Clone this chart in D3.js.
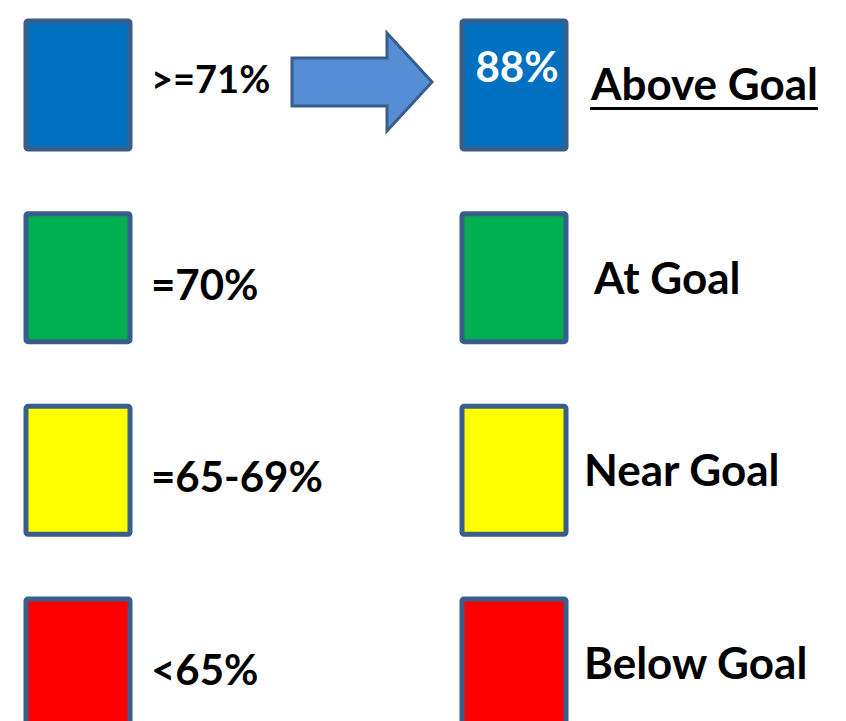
<!DOCTYPE html>
<html>
<head>
<meta charset="utf-8">
<script src="https://cdn.jsdelivr.net/npm/d3@7"></script>
<style>
  html, body { margin: 0; padding: 0; background: #fff; }
  svg { display: block; }
</style>
</head>
<body>
<div id="chart"></div>
<script>
/* Goal status legend */

const statuses = ['Above Goal', 'At Goal', 'Near Goal', 'Below Goal'];
const thresholds = ['>=71%', '=70%', '=65-69%', '<65%'];
const colors = ['#0070C0', '#00B050', '#FFFF00', '#FF0000'];
const sampleValue = '88%';

const W = 846, H = 721;
const boxW = 104, boxH = 128;
const outline = '#3A5E8C';
const font = "Lato, 'Noto Sans', sans-serif";

const svg = d3.select('#chart')
  .append('svg')
  .attr('width', W)
  .attr('height', H);

// rows
const y = d3.scalePoint()
  .domain(statuses)
  .range([85, 663]);

// columns: threshold swatch | status swatch
const x = d3.scalePoint()
  .domain(['threshold', 'status'])
  .range([78, 514]);

const rows = statuses.map((s, i) => ({
  status: s,
  threshold: thresholds[i],
  color: colors[i],
  i
}));

// ─── Swatches ───
['threshold', 'status'].forEach(col => {
  svg.append('g')
    .selectAll('rect')
    .data(rows)
    .join('rect')
    .attr('x', x(col) - boxW / 2)
    .attr('y', d => y(d.status) - boxH / 2)
    .attr('width', boxW)
    .attr('height', boxH)
    .attr('rx', 2)
    .attr('fill', d => d.color)
    .attr('stroke', outline)
    .attr('stroke-width', 5);
});

// ─── Threshold labels ───
svg.append('g')
  .selectAll('text')
  .data(rows)
  .join('text')
  .attr('x', x('threshold') + 73)
  .attr('y', d => y(d.status) + (d.i === 0 ? 8 : 22))
  .attr('font-family', font)
  .attr('font-weight', 700)
  .attr('font-size', d => d.i === 0 ? 38 : 42)
  .attr('fill', '#000')
  .text(d => d.threshold);

// ─── Status labels ───
const statusText = svg.append('g')
  .selectAll('text')
  .data(rows)
  .join('text')
  .attr('x', d => x('status') + (d.i === 0 ? 77 : d.i === 1 ? 80 : 70))
  .attr('y', d => y(d.status) + (d.i === 0 ? 15 : 16))
  .attr('font-family', font)
  .attr('font-weight', 700)
  .attr('font-size', 44)
  .attr('fill', '#000')
  .text(d => d.status);

// underline on the first status
statusText.filter(d => d.i === 0).each(function () {
  const b = this.getBBox();
  svg.append('rect')
    .attr('x', b.x)
    .attr('y', y(statuses[0]) + 22)
    .attr('width', b.width)
    .attr('height', 3)
    .attr('fill', '#000');
});

// ─── Sample value inside first status swatch ───
svg.append('text')
  .attr('x', x('status') + 3)
  .attr('y', y(statuses[0]) - 3)
  .attr('text-anchor', 'middle')
  .attr('font-family', font)
  .attr('font-weight', 700)
  .attr('font-size', 42)
  .attr('fill', '#fff')
  .text(sampleValue);

// ─── Arrow between the two columns ───
const cy = y(statuses[0]) - 3;
const ax0 = 292, ax1 = 387, tip = 432;
const arrowPts = [
  [ax0, cy - 24], [ax1, cy - 24], [ax1, cy - 49], [tip, cy],
  [ax1, cy + 49], [ax1, cy + 24], [ax0, cy + 24]
];
svg.append('path')
  .attr('d', d3.line()(arrowPts) + 'Z')
  .attr('fill', '#558ED5')
  .attr('stroke', outline)
  .attr('stroke-width', 3)
  .attr('stroke-linejoin', 'miter');
</script>
</body>
</html>
